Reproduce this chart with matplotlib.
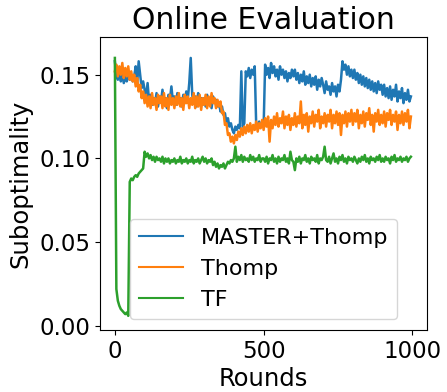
import numpy as np
import matplotlib
matplotlib.use("Agg")
import matplotlib.pyplot as plt

rounds = np.arange(0, 1000, 5)

master_thomp = [
    0.158, 0.150, 0.147, 0.152, 0.146, 0.150, 0.145, 0.149, 0.146, 0.151, 0.147, 0.150, 0.146, 0.149, 0.155, 0.145, 0.158, 0.150, 0.142, 0.146,
    0.141, 0.137, 0.145, 0.134, 0.138, 0.132, 0.136, 0.133, 0.139, 0.131, 0.137, 0.134, 0.141, 0.133, 0.136, 0.130, 0.138, 0.135, 0.143, 0.134,
    0.137, 0.132, 0.139, 0.134, 0.136, 0.131, 0.138, 0.133, 0.140, 0.135, 0.145, 0.160, 0.138, 0.133, 0.137, 0.131, 0.139, 0.134, 0.136, 0.132,
    0.136, 0.131, 0.138, 0.133, 0.136, 0.130, 0.137, 0.133, 0.135, 0.131, 0.133, 0.128, 0.131, 0.126, 0.127, 0.121, 0.124, 0.119, 0.121, 0.117,
    0.115, 0.119, 0.117, 0.120, 0.118, 0.152, 0.119, 0.121, 0.152, 0.149, 0.154, 0.148, 0.153, 0.150, 0.155, 0.120, 0.118, 0.122, 0.119, 0.121,
    0.119, 0.156, 0.150, 0.154, 0.148, 0.157, 0.151, 0.155, 0.149, 0.153, 0.147, 0.155, 0.150, 0.153, 0.148, 0.152, 0.146, 0.151, 0.148, 0.153,
    0.149, 0.153, 0.147, 0.151, 0.145, 0.150, 0.146, 0.152, 0.144, 0.149, 0.145, 0.150, 0.143, 0.148, 0.144, 0.149, 0.141, 0.147, 0.143, 0.148,
    0.144, 0.139, 0.146, 0.141, 0.143, 0.138, 0.145, 0.140, 0.143, 0.137, 0.144, 0.140, 0.147, 0.158, 0.153, 0.156, 0.150, 0.155, 0.149, 0.153,
    0.148, 0.153, 0.147, 0.151, 0.145, 0.150, 0.144, 0.149, 0.143, 0.148, 0.142, 0.147, 0.141, 0.146, 0.140, 0.145, 0.139, 0.146, 0.141, 0.144,
    0.138, 0.144, 0.137, 0.142, 0.136, 0.143, 0.135, 0.141, 0.137, 0.144, 0.134, 0.140, 0.136, 0.142, 0.133, 0.139, 0.135, 0.141, 0.134, 0.137,
]

thomp = [
    0.152, 0.156, 0.149, 0.155, 0.150, 0.157, 0.148, 0.154, 0.149, 0.155, 0.147, 0.152, 0.146, 0.150, 0.143, 0.148, 0.140, 0.144, 0.136, 0.140,
    0.133, 0.138, 0.131, 0.137, 0.130, 0.139, 0.132, 0.136, 0.129, 0.138, 0.133, 0.137, 0.130, 0.139, 0.131, 0.136, 0.129, 0.138, 0.132, 0.136,
    0.130, 0.137, 0.132, 0.139, 0.131, 0.136, 0.129, 0.138, 0.133, 0.137, 0.130, 0.136, 0.132, 0.139, 0.130, 0.137, 0.131, 0.138, 0.129, 0.136,
    0.132, 0.138, 0.130, 0.137, 0.131, 0.139, 0.133, 0.136, 0.130, 0.135, 0.131, 0.134, 0.127, 0.128, 0.120, 0.121, 0.114, 0.115, 0.110, 0.113,
    0.109, 0.114, 0.111, 0.116, 0.113, 0.118, 0.114, 0.119, 0.115, 0.120, 0.116, 0.121, 0.115, 0.120, 0.117, 0.122, 0.116, 0.121, 0.118, 0.123,
    0.117, 0.124, 0.119, 0.125, 0.110, 0.123, 0.118, 0.125, 0.120, 0.127, 0.119, 0.124, 0.121, 0.128, 0.118, 0.125, 0.120, 0.126, 0.117, 0.124,
    0.120, 0.127, 0.119, 0.125, 0.121, 0.134, 0.118, 0.126, 0.120, 0.127, 0.116, 0.125, 0.121, 0.128, 0.119, 0.126, 0.122, 0.129, 0.118, 0.125,
    0.121, 0.127, 0.119, 0.126, 0.122, 0.129, 0.118, 0.126, 0.121, 0.128, 0.120, 0.127, 0.114, 0.126, 0.121, 0.128, 0.119, 0.127, 0.122, 0.129,
    0.120, 0.127, 0.122, 0.129, 0.118, 0.126, 0.121, 0.128, 0.119, 0.127, 0.123, 0.130, 0.120, 0.126, 0.116, 0.127, 0.122, 0.129, 0.120, 0.126,
    0.121, 0.128, 0.119, 0.127, 0.123, 0.129, 0.120, 0.126, 0.122, 0.128, 0.117, 0.126, 0.121, 0.128, 0.120, 0.127, 0.122, 0.129, 0.118, 0.125,
]

tf = [
    0.160, 0.022, 0.015, 0.012, 0.010, 0.009, 0.008, 0.007, 0.008, 0.006, 0.086, 0.088, 0.087, 0.089, 0.090, 0.089, 0.091, 0.092, 0.093, 0.094,
    0.104, 0.101, 0.103, 0.100, 0.102, 0.099, 0.101, 0.098, 0.101, 0.099, 0.100, 0.098, 0.101, 0.097, 0.100, 0.098, 0.100, 0.097, 0.099, 0.098,
    0.100, 0.097, 0.099, 0.098, 0.101, 0.097, 0.099, 0.098, 0.100, 0.097, 0.099, 0.098, 0.101, 0.097, 0.099, 0.098, 0.100, 0.097, 0.099, 0.101,
    0.098, 0.100, 0.097, 0.099, 0.098, 0.100, 0.096, 0.098, 0.095, 0.097, 0.094, 0.096, 0.095, 0.097, 0.094, 0.096, 0.098, 0.097, 0.099, 0.098,
    0.100, 0.107, 0.098, 0.101, 0.099, 0.102, 0.098, 0.101, 0.099, 0.100, 0.098, 0.102, 0.099, 0.101, 0.098, 0.100, 0.099, 0.102, 0.098, 0.100,
    0.100, 0.098, 0.101, 0.097, 0.100, 0.099, 0.102, 0.098, 0.100, 0.097, 0.101, 0.098, 0.100, 0.099, 0.102, 0.098, 0.100, 0.097, 0.104, 0.099,
    0.098, 0.093, 0.100, 0.098, 0.101, 0.097, 0.100, 0.099, 0.102, 0.098, 0.100, 0.097, 0.101, 0.099, 0.100, 0.098, 0.102, 0.097, 0.100, 0.099,
    0.101, 0.107, 0.099, 0.098, 0.101, 0.097, 0.100, 0.103, 0.098, 0.100, 0.097, 0.101, 0.099, 0.102, 0.098, 0.100, 0.097, 0.101, 0.099, 0.100,
    0.098, 0.101, 0.099, 0.097, 0.100, 0.098, 0.101, 0.099, 0.102, 0.098, 0.100, 0.097, 0.101, 0.099, 0.100, 0.098, 0.101, 0.099, 0.102, 0.098,
    0.100, 0.098, 0.101, 0.099, 0.100, 0.097, 0.101, 0.099, 0.102, 0.098, 0.100, 0.099, 0.101, 0.098, 0.100, 0.099, 0.101, 0.098, 0.100, 0.101,
]

labels = ["MASTER+Thomp", "Thomp", "TF"]
xticks = [0, 500, 1000]
yticks = [0.00, 0.05, 0.10, 0.15]

fig = plt.figure(figsize=(4.47, 3.92), dpi=100)
ax = fig.add_axes([0.2237, 0.158, 0.7315, 0.7476])
for series, lab in zip([master_thomp, thomp, tf], labels):
    ax.plot(rounds, series, label=lab, linewidth=1.8)

ax.set_xlim(-50, 1049)
ax.set_ylim(-0.0025, 0.1725)
ax.set_xticks(xticks)
ax.set_yticks(yticks)
ax.set_yticklabels([f"{v:.2f}" for v in yticks])
ax.tick_params(labelsize=16.5)
ax.set_xlabel("Rounds", fontsize=17.5, labelpad=3)
ax.set_ylabel("Suboptimality", fontsize=17.5, labelpad=5)
ax.set_title("Online Evaluation", fontsize=21.5, pad=6)
leg = ax.legend(loc="lower center", fontsize=16)
for line in leg.get_lines():
    line.set_linewidth(1.5)

fig.savefig("out.png", dpi=100)
